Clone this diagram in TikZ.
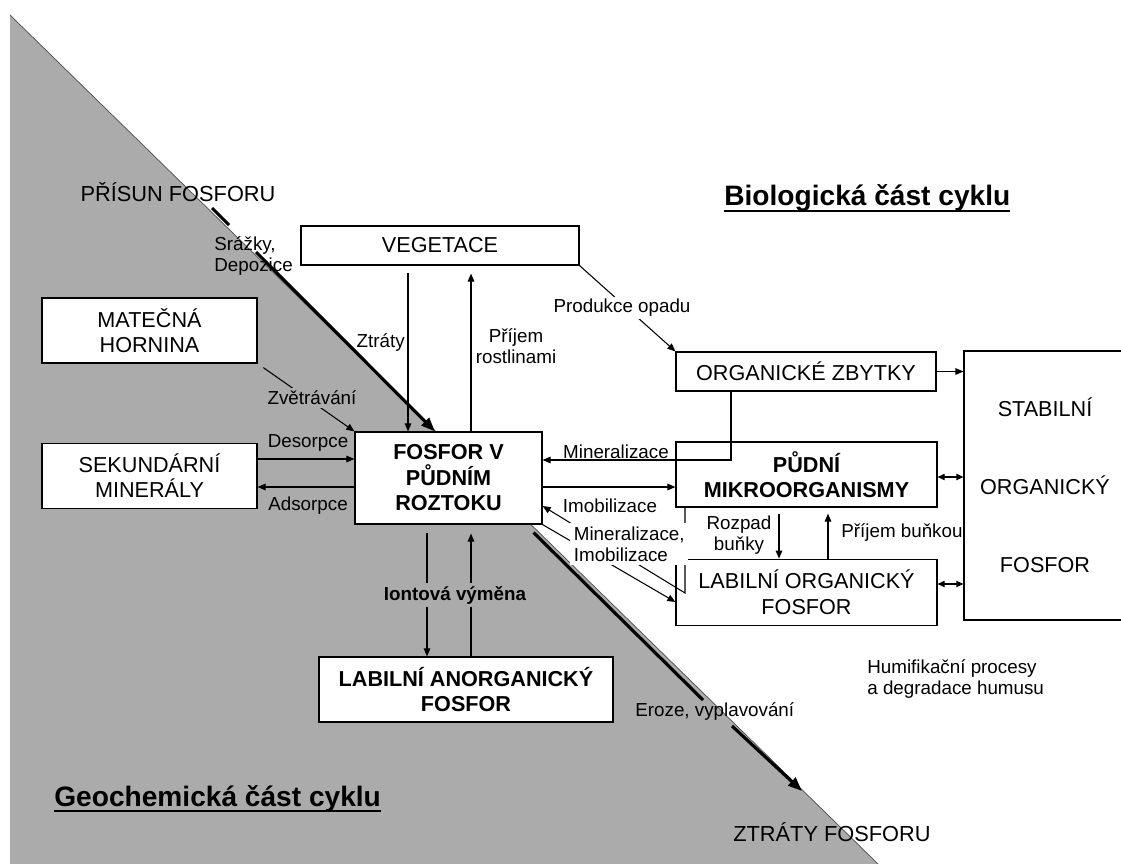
\documentclass[tikz,border=0pt]{standalone}
\usepackage{fontspec}
\setmainfont{Liberation Sans}
\usetikzlibrary{arrows.meta,positioning}
\colorlet{geo}{black!33}
\newcommand{\thkul}[1]{\setbox0\hbox{#1}\rlap{\copy0}\rule[-3.5pt]{\wd0}{1.5pt}}

\begin{document}
\begin{tikzpicture}[x=0.02cm, y=-0.02cm,
  box/.style = {draw, line width=0.7pt, fill=white, inner sep=0pt, align=center, font=\fontsize{12.3}{14.5}\selectfont},
  bbox/.style = {box, font=\fontsize{12.3}{14.5}\selectfont\bfseries},
  lbl/.style = {inner sep=0pt, align=center, font=\fontsize{10.7}{12}\selectfont},
  head/.style = {inner sep=0pt, font=\fontsize{16}{19}\selectfont\bfseries},
  arr/.style = {line width=0.6pt, -{Triangle[length=4.6pt,width=3.8pt]}},
  darr/.style = {line width=0.6pt, {Triangle[length=4pt,width=3.6pt]}-{Triangle[length=4pt,width=3.6pt]}},
  flow/.style = {line width=1.8pt}]
\useasboundingbox (0,0) rectangle (1121,864);
% geochemicka cast
\fill[geo] (10,15) -- (878,864) -- (10,864) -- cycle;
\draw[black!70, line width=0.4pt] (10,15) -- (878,864);

% boxes
\node[box, minimum width=5.56cm, minimum height=0.78cm] (veg) at (440,245.5) {VEGETACE};
\node[box, minimum width=4.3cm, minimum height=1.3cm] (mat) at (149.5,330.5) {MATEČNÁ\\HORNINA};
\node[box, minimum width=4.3cm, minimum height=1.3cm, below=1.58cm of mat] (sek) {SEKUNDÁRNÍ\\MINERÁLY};
\node[bbox, minimum width=3.74cm, minimum height=1.84cm] (fos) at (448.5,478) {FOSFOR V\\PŮDNÍM\\ROZTOKU};
\node[bbox, minimum width=5.88cm, minimum height=1.3cm] (anorg) at (466,689.5) {LABILNÍ ANORGANICKÝ\\FOSFOR};
\node[box, minimum width=5.2cm, minimum height=0.78cm] (org) at (806,371.5) {ORGANICKÉ ZBYTKY};
\node[bbox, minimum width=5.22cm, minimum height=1.3cm] (pud) at (806.5,474.5) {PŮDNÍ\\MIKROORGANISMY};
\node[box, minimum width=5.22cm, minimum height=1.32cm, below=1.02cm of pud] (lab) {LABILNÍ ORGANICKÝ\\FOSFOR};
\node[box, minimum width=3.24cm, minimum height=5.38cm] (stab) at (1045,485.5) {STABILNÍ\\[1.05cm]ORGANICKÝ\\[1.05cm]FOSFOR};

% prisun a ztraty
\coordinate (pris) at (212,208);
\coordinate (prisb) at (229,225);
\coordinate (prisc) at (256,252);
\draw[flow] (pris) -- (prisb);
\draw[flow, -{Triangle[length=8pt,width=6pt]}] (prisc) -- (fos.north -| 435,0);
\coordinate (eroa) at (703,700);
\coordinate (erob) at (732,726);
\coordinate (ztr) at (802,791);
\draw[flow] ([xshift=-0.18cm,yshift=-0.16cm]fos.south east) -- (eroa);
\draw[flow, -{Triangle[length=8pt,width=6pt]}] (erob) -- (ztr);

% connectors
\draw[arr, shorten <=0.14cm] (veg.south -| 408,0) -- (fos.north -| 408,0);
\draw[arr, shorten >=0.16cm] (fos.north -| 471,0) -- (veg.south -| 471,0);
\draw[arr] (veg.south east) -- (org.north west);
\draw[arr, shorten <=0.14cm] (mat.south east) -- (fos.north west);
\draw[arr] (sek.east |- 0,459) -- (fos.west |- 0,459);
\draw[arr] (fos.west |- 0,487) -- (sek.east |- 0,487);
\draw[arr] (org.south -| 731,0) |- (fos.east |- 0,460);
\draw[arr] (fos.east |- 0,487) -- (pud.west |- 0,487);
\draw[arr] (pud.south -| 685,0) -- (685,593) -- (fos.east |- 0,506);
\draw[arr] (fos.south east) -- (lab.west |- 0,602);
\draw[arr, shorten <=0.12cm] (pud.south -| 779,0) -- (lab.north -| 779,0);
\draw[arr, shorten >=0.12cm] (lab.north -| 828,0) -- (pud.south -| 828,0);
\draw[arr] (org.east) -- (stab.west |- org.east);
\draw[darr] (pud.east |- 0,477) -- (stab.west |- 0,477);
\draw[darr] (lab.east |- 0,584) -- (stab.west |- 0,584);
\draw[arr, shorten <=0.16cm] (fos.south -| 427,0) -- (anorg.north -| 427,0);
\draw[arr, shorten >=0.18cm] (anorg.north -| 471,0) -- (fos.south -| 471,0);

% labels
\node[lbl, font=\fontsize{12.4}{14}\selectfont] (prin) at (178,192) {PŘÍSUN FOSFORU};
\node[lbl, anchor=west, align=left] (srz) at (214,256) {Srážky,\\Depozice};
\node[lbl, anchor=east] (ztl) at (405,343) {Ztráty};
\node[lbl] (pri) at (516,346) {Příjem\\rostlinami};
\node[lbl, fill=white, inner sep=1.5pt] (opad) at (622,308) {Produkce opadu};
\node[lbl, fill=geo, inner sep=1.5pt] (zvet) at (312,398) {Zvětrávání};
\node[lbl] (des) at (308,443) {Desorpce};
\node[lbl] (ads) at (308,506) {Adsorpce};
\node[lbl] (min) at (616,452) {Mineralizace};
\node[lbl] (imo) at (610,506) {Imobilizace};
\node[lbl, anchor=west, align=left, fill=white, inner sep=2pt] (minimo) at (570,544) {Mineralizace,\\Imobilizace};
\node[lbl] (roz) at (739,535) {Rozpad\\buňky};
\node[lbl, anchor=west] (prb) at (841,533) {Příjem buňkou};
\node[lbl, font=\fontsize{10.7}{12}\selectfont\bfseries, fill=geo, inner sep=2pt] (ion) at (455,595) {Iontová výměna};
\node[lbl, anchor=west] (ero) at (635,712) {Eroze, vyplavování};
\node[lbl, anchor=west, font=\fontsize{12.4}{14}\selectfont] (ztrl) at (733,832) {ZTRÁTY FOSFORU};
\node[lbl, anchor=west, align=left] (hum) at (867,679) {Humifikační procesy\\a degradace humusu};
\node[head, anchor=base west] (bio) at (724,206) {\thkul{Biologická část cyklu}};
\node[head, anchor=base west] (geoch) at (54,806) {\thkul{Geochemická část cyklu}};
\end{tikzpicture}
\end{document}
